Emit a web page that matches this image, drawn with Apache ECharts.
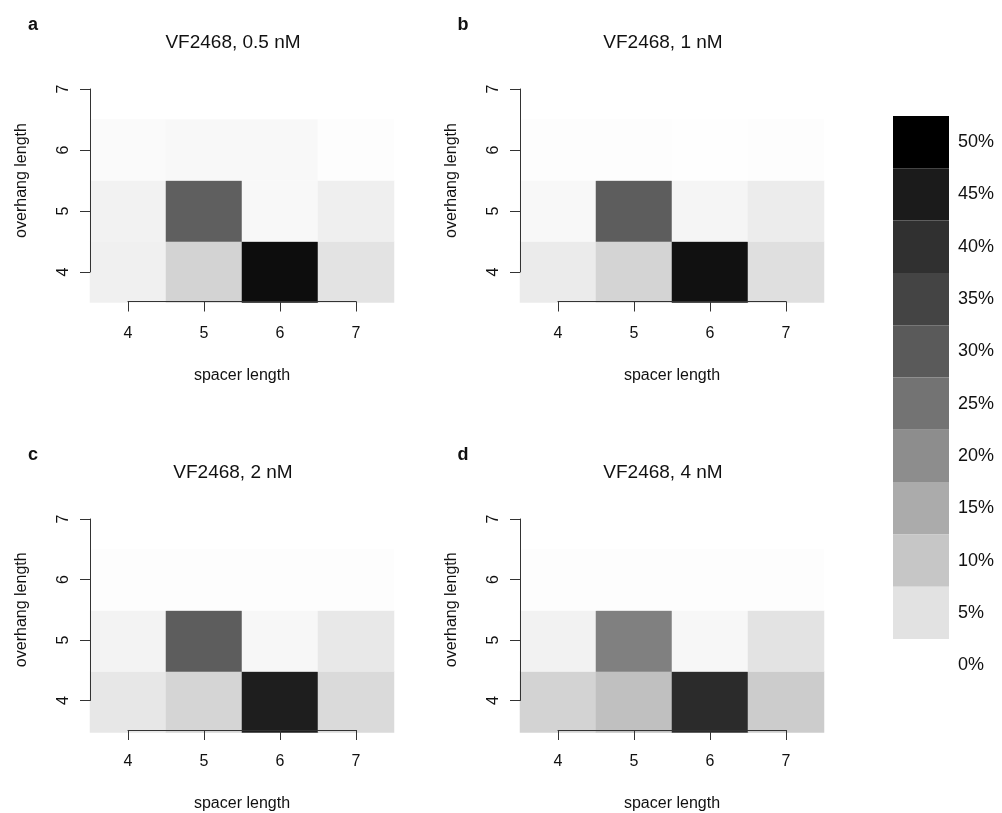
<!DOCTYPE html>
<html>
<head>
<meta charset="utf-8">
<script src="https://cdn.jsdelivr.net/npm/echarts@6/dist/echarts.min.js"></script>
<style>
html,body{margin:0;padding:0;background:#fff;}
#chart{width:1002px;height:813px;}
</style>
</head>
<body>
<div id="chart"></div>
<script>
// ---- data ----
const spacerLengths = ['4', '5', '6', '7'];
const overhangAxis = ['4', '5', '6', '7'];
const overhangRows = ['4', '5', '6'];
const panelTitles = ['VF2468, 0.5 nM', 'VF2468, 1 nM', 'VF2468, 2 nM', 'VF2468, 4 nM'];
const panelLetters = ['a', 'b', 'c', 'd'];
// rows: overhang 4, 5, 6 ; columns: spacer 4, 5, 6, 7 (fraction of reads)
const values05nM = [
  [0.026, 0.077, 0.476, 0.048],
  [0.022, 0.290, 0.012, 0.028],
  [0.009, 0.012, 0.012, 0.003]
];
const values1nM = [
  [0.034, 0.075, 0.469, 0.055],
  [0.012, 0.294, 0.017, 0.033],
  [0.003, 0.003, 0.002, 0.004]
];
const values2nM = [
  [0.041, 0.073, 0.443, 0.064],
  [0.021, 0.294, 0.014, 0.040],
  [0.004, 0.004, 0.003, 0.004]
];
const values4nM = [
  [0.077, 0.111, 0.412, 0.089],
  [0.022, 0.225, 0.014, 0.048],
  [0.003, 0.003, 0.003, 0.003]
];
const legendLabels = ['0%', '5%', '10%', '15%', '20%', '25%', '30%', '35%', '40%', '45%', '50%'];
const legendColors = ['#ffffff', '#e2e2e2', '#c6c6c6', '#ababab', '#8d8d8d', '#737373', '#5a5a5a', '#444444', '#303030', '#1b1b1b', '#000000'];

// ---- layout ----
const FONT = "'Liberation Sans', Arial, Helvetica, sans-serif";
const panelValues = [values05nM, values1nM, values2nM, values4nM];
const panelPos = [[90, 58.5], [520, 58.5], [90, 488.5], [520, 488.5]];
const cellW = 76, cellH = 61;

const grid = [], xAxis = [], yAxis = [], series = [], graphic = [];
panelPos.forEach((p, i) => {
  const [L, T] = p;
  grid.push({left: L, top: T, width: cellW * 4, height: cellH * 4});
  grid.push({left: L + cellW / 2, top: T + cellH / 2, width: cellW * 3, height: cellH * 3});
  xAxis.push({type: 'category', gridIndex: 2 * i, data: spacerLengths, show: false});
  yAxis.push({type: 'category', gridIndex: 2 * i, data: overhangAxis, show: false});
  xAxis.push({
    type: 'category', gridIndex: 2 * i + 1, data: spacerLengths, boundaryGap: false,
    position: 'bottom', offset: cellH / 2 - 1, z: 20,
    axisLine: {show: true, onZero: false, lineStyle: {color: '#333', width: 1}},
    axisTick: {show: true, inside: false, length: 10, interval: 0, lineStyle: {color: '#333', width: 1}},
    axisLabel: {show: true, inside: false, fontSize: 16, color: '#111', margin: 24, interval: 0, fontFamily: FONT},
    splitLine: {show: false},
    name: 'spacer length', nameLocation: 'middle', nameGap: 66,
    nameTextStyle: {fontSize: 16, color: '#111', fontFamily: FONT}
  });
  yAxis.push({
    type: 'category', gridIndex: 2 * i + 1, data: overhangAxis, boundaryGap: false,
    position: 'left', offset: cellW / 2, z: 20,
    axisLine: {show: true, onZero: false, lineStyle: {color: '#333', width: 1}},
    axisTick: {show: true, inside: false, length: 10, interval: 0, lineStyle: {color: '#333', width: 1}},
    axisLabel: {show: true, inside: false, fontSize: 16, color: '#111', margin: 18, rotate: 90, interval: 0, fontFamily: FONT},
    splitLine: {show: false},
    name: 'overhang length', nameLocation: 'middle', nameGap: 60,
    nameTextStyle: {fontSize: 16, color: '#111', fontFamily: FONT}
  });
  const data = [];
  overhangRows.forEach((r, ri) => {
    spacerLengths.forEach((s, si) => {
      data.push([s, r, panelValues[i][ri][si]]);
    });
  });
  series.push({
    type: 'heatmap', xAxisIndex: 2 * i, yAxisIndex: 2 * i, data: data, z: 1,
    itemStyle: {borderWidth: 0},
    emphasis: {disabled: true}, silent: true, progressive: 0
  });
  graphic.push({
    type: 'text', x: L + cellW * 2 - 9, y: T - 16,
    style: {text: panelTitles[i], fontSize: 19, fill: '#111', fontFamily: FONT, textAlign: 'center', textVerticalAlign: 'middle'}
  });
  graphic.push({
    type: 'text', x: L - 57, y: T - 33,
    style: {text: panelLetters[i], fontSize: 18, fontWeight: 'bold', fill: '#111', fontFamily: FONT, textAlign: 'center', textVerticalAlign: 'middle'}
  });
});
series.push({type: 'scatter', xAxisIndex: 0, yAxisIndex: 0, data: [], silent: true});

const option = {
  animation: false,
  backgroundColor: '#fff',
  textStyle: {fontFamily: FONT},
  grid: grid, xAxis: xAxis, yAxis: yAxis, series: series,
  visualMap: [
    {
      type: 'continuous', show: false, min: 0, max: 0.5, seriesIndex: [0, 1, 2, 3], dimension: 2,
      inRange: {color: legendColors}
    },
    {
      type: 'piecewise', seriesIndex: [4], orient: 'vertical', align: 'left', padding: 0,
      left: 893, top: 116, itemWidth: 56, itemHeight: 52.3, itemGap: 0, itemSymbol: 'rect',
      textGap: 9, selectedMode: false, hoverLink: false,
      textStyle: {fontSize: 18, color: '#111', fontFamily: FONT},
      pieces: legendLabels.map((l, k) => ({min: k * 0.05 - 0.025, max: k * 0.05 + 0.025, label: l, color: legendColors[k]}))
    }
  ],
  graphic: graphic
};
const chart = echarts.init(document.getElementById('chart'), null, {renderer: 'canvas'});
chart.setOption(option);
</script>
</body>
</html>
